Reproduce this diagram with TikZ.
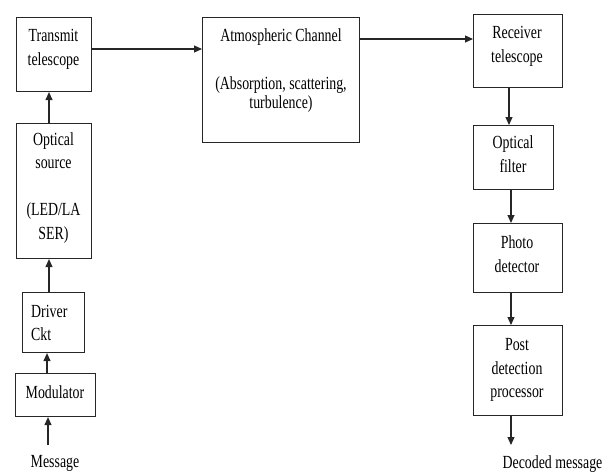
\documentclass[tikz,border=0pt]{standalone}
\usepackage{fontspec}
\setmainfont{Liberation Serif}[FakeStretch=0.75]
\usetikzlibrary{arrows.meta}
\begin{document}
\begin{tikzpicture}[x=1pt,y=-1pt,
  blk/.style={draw=black!85,line width=1.1pt,inner sep=0pt,anchor=north west},
  lbl/.style={inner sep=0pt,anchor=base,align=center,font=\fontsize{18.5}{23.5}\selectfont},
  arr/.style={draw=black!85,line width=1.1pt,-{Triangle[length=8pt,width=7pt]}}]
\useasboundingbox (0,0) rectangle (608,472);
% boxes
\node[blk,minimum width=75pt,minimum height=74pt] (tt) at (16,17) {};
\node[blk,minimum width=75pt,minimum height=135pt] (os) at (16,123) {};
\node[blk,minimum width=62pt,minimum height=60pt] (dc) at (22,292) {};
\node[blk,minimum width=80pt,minimum height=43pt] (mod) at (15,373) {};
\node[blk,minimum width=157pt,minimum height=125pt] (ac) at (202,17) {};
\node[blk,minimum width=89pt,minimum height=73pt] (rt) at (473,14) {};
\node[blk,minimum width=80pt,minimum height=64pt] (of) at (473,125) {};
\node[blk,minimum width=89pt,minimum height=69pt] (pd) at (473,223) {};
\node[blk,minimum width=89pt,minimum height=90pt] (pp) at (473,325) {};
% texts (multi-line: anchor base = last line's baseline)
\node[lbl] (ttt) at (53.5,65) {Transmit\\telescope};
\node[lbl] (ost) at (53.5,239) {Optical\\source\\\\(LED/LA\\SER)};
\node[lbl,anchor=base west,align=left] (dct) at (31,340.5) {Driver\\Ckt};
\node[lbl] (modt) at (55,398) {Modulator};
\node[lbl] (msg) at (55,467) {Message};
\node[lbl] (act1) at (281,41.5) {Atmospheric Channel};
\node[lbl] (act2) at (281,89) {(Absorption, scattering,};
\node[lbl] (act3) at (281,108.5) {turbulence)};
\node[lbl] (rtt) at (517,62) {Receiver\\telescope};
\node[lbl] (oft) at (513,172) {Optical\\filter};
\node[lbl] (pdt) at (517,272) {Photo\\detector};
\node[lbl] (ppt) at (517,397.5) {Post\\detection\\processor};
\node[lbl] (dec) at (552.5,468) {Decoded message};
% guide coordinates
\coordinate (x1) at (49,0);
\coordinate (x2) at (47,0);
\coordinate (x3) at (48,0);
\coordinate (y1) at (0,49);
\coordinate (y2) at (0,39);
\coordinate (x4) at (509,0);
\coordinate (x5) at (511,0);
\coordinate (min) at (48,445);
\coordinate (dout) at (511,445);
% connectors
\draw[arr] (os.north -| x1) -- (tt.south -| x1);
\draw[arr] (dc.north -| x1) -- (os.south -| x1);
\draw[arr] (mod.north -| x2) -- (dc.south -| x2);
\draw[arr] (min) -- (mod.south -| min);
\draw[arr] (tt.east |- y1) -- (ac.west |- y1);
\draw[arr] (ac.east |- y2) -- (rt.west |- y2);
\draw[arr] (rt.south -| x4) -- (of.north -| x4);
\draw[arr] (of.south -| x5) -- (pd.north -| x5);
\draw[arr] (pd.south -| x5) -- (pp.north -| x5);
\draw[arr] (pp.south -| x5) -- (dout);
\end{tikzpicture}
\end{document}
